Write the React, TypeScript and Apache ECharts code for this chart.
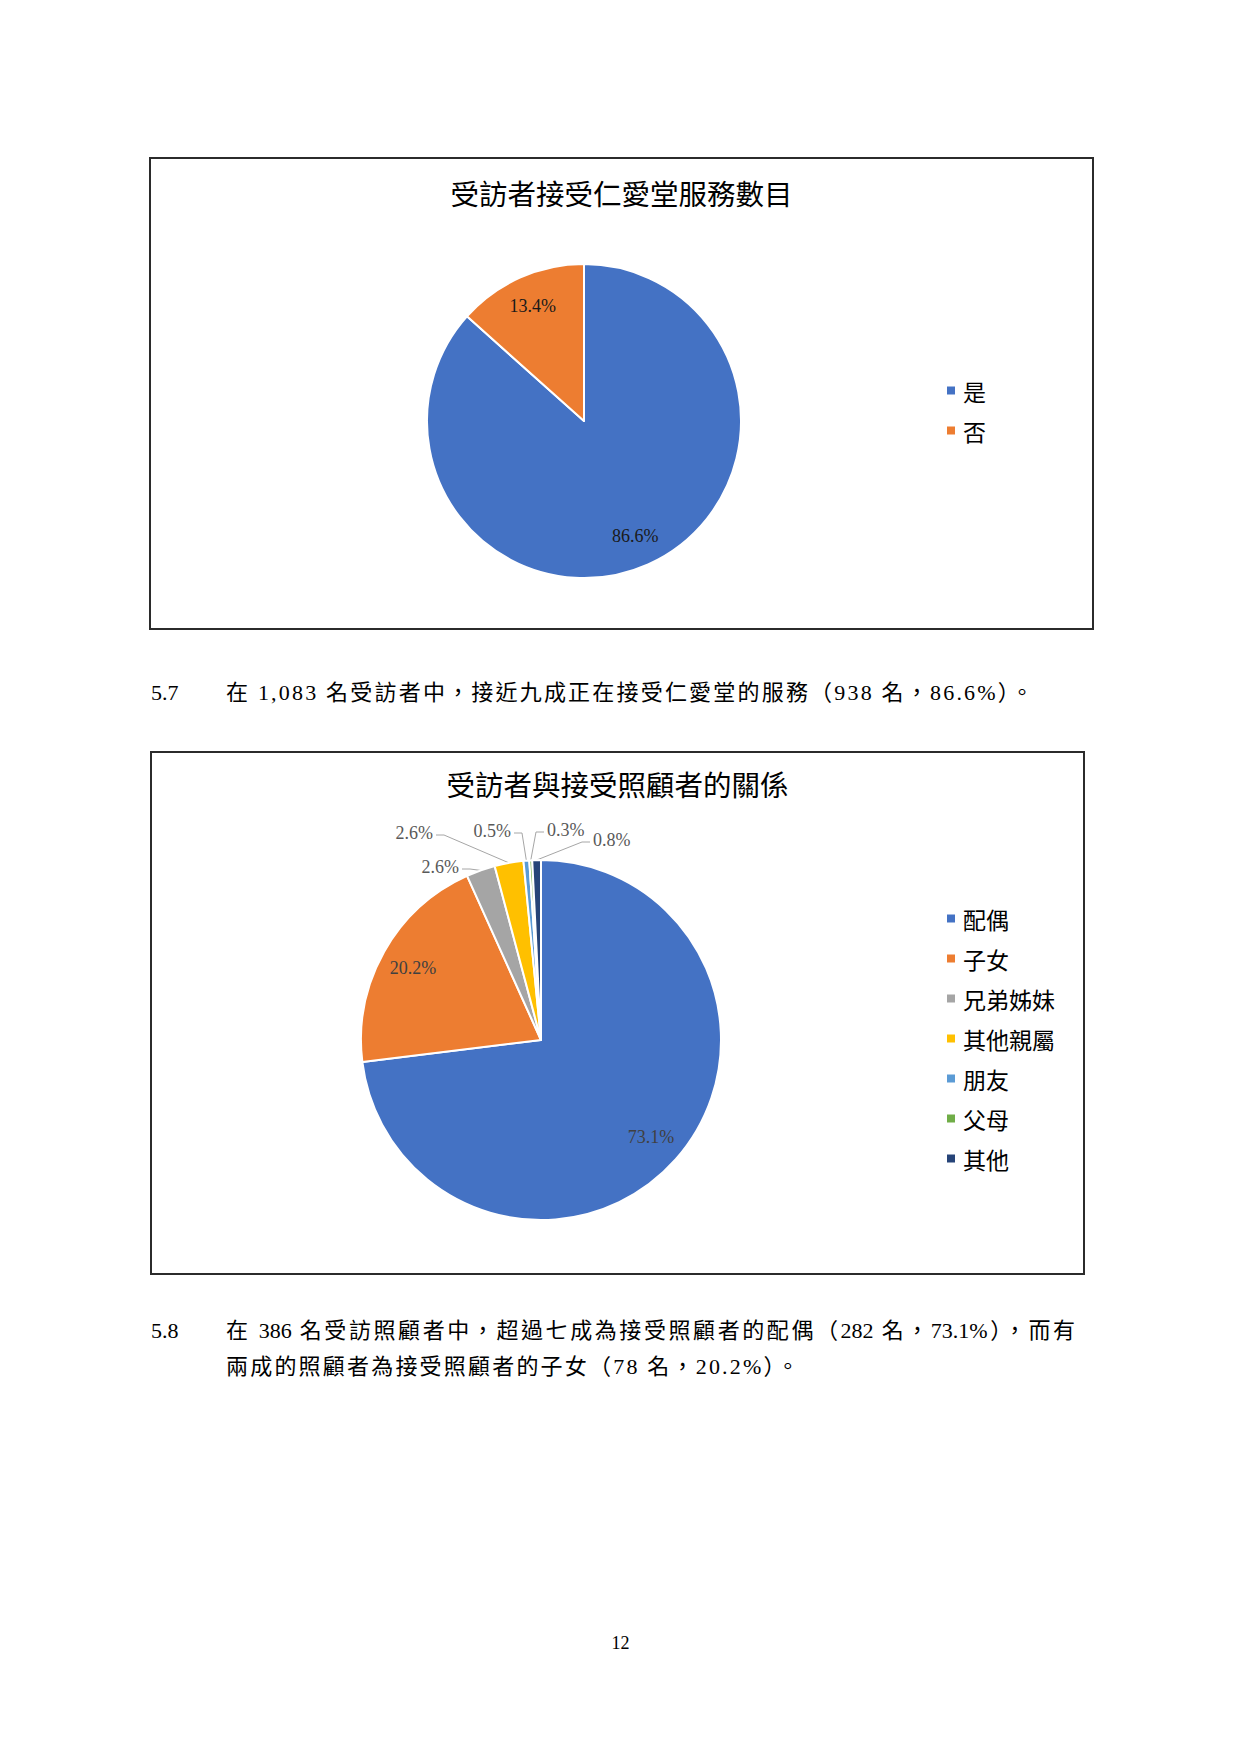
import { useEffect, useRef } from "react";
import * as echarts from "echarts";

// 圖一: 受訪者接受仁愛堂服務數目 (n = 1,083)
const SERVICE_NAMES = ["是", "否"];
const SERVICE_COUNTS = [938, 145];
const SERVICE_COLORS = ["#4472C4", "#ED7D31"];

// 圖二: 受訪者與接受照顧者的關係 (n = 386)
const REL_NAMES = ["配偶", "子女", "兄弟姊妹", "其他親屬", "朋友", "父母", "其他"];
const REL_COUNTS = [282, 78, 10, 10, 2, 1, 3];
const REL_COLORS = ["#4472C4", "#ED7D31", "#A5A5A5", "#FFC000", "#5B9BD5", "#70AD47", "#264478"];

const SERIF = '"Liberation Serif", "Noto Sans CJK TC", serif';
const CJK = '"Noto Sans CJK TC", "Liberation Serif", sans-serif';

// 圖二 小扇形的外部標籤位置 (相對圓心, px) — Excel 風格的排放
const OUTER_SPOTS: Record<number, [number, number]> = {
  2: [-82, -173],
  3: [-108, -207],
  4: [-30, -209],
  5: [6, -210],
  6: [52, -200],
};

const pct = (v: number, all: number[]) => {
  const total = all.reduce((a, b) => a + b, 0);
  return ((v / total) * 100).toFixed(1) + "%";
};

function useChart(build: () => echarts.EChartsCoreOption) {
  const ref = useRef<HTMLDivElement>(null);
  useEffect(() => {
    if (!ref.current) return;
    const inst = echarts.init(ref.current, undefined, { renderer: "svg" });
    inst.setOption(build());
    return () => inst.dispose();
  }, []);
  return ref;
}

function legendOf(top: number, left: number, gap: number) {
  return {
    orient: "vertical",
    left,
    top,
    itemWidth: 8,
    itemHeight: 8,
    itemGap: gap,
    icon: "rect",
    selectedMode: false,
    itemStyle: { borderWidth: 0 },
    textStyle: { fontFamily: CJK, fontSize: 23, lineHeight: 23, color: "#000", padding: [0, 0, 0, 3] },
  };
}

function titleOf(text: string, top: number) {
  return {
    text,
    left: "center",
    top,
    padding: 0,
    textStyle: { fontFamily: CJK, fontSize: 28.5, fontWeight: "normal", color: "#000" },
  };
}

function ServiceChart() {
  const C: [number, number] = [433, 262];
  const R = 157;
  const ref = useChart(() => ({
    animation: false,
    backgroundColor: "#fff",
    title: titleOf("受訪者接受仁愛堂服務數目", 19),
    legend: { ...legendOf(215, 791, 17), data: SERVICE_NAMES },
    series: [
      {
        type: "pie", center: C, radius: R, startAngle: 90, clockwise: true,
        silent: true, label: { show: false }, labelLine: { show: false },
        itemStyle: { borderColor: "#fff", borderWidth: 2 },
        data: SERVICE_NAMES.map((n, i) => ({ name: n, value: SERVICE_COUNTS[i], itemStyle: { color: SERVICE_COLORS[i] } })),
      },
      {
        // 只畫標籤: 透明環, 讓 inside 標籤落在 ~0.78r
        type: "pie", center: C, radius: [R * 0.56, R], startAngle: 90, clockwise: true,
        silent: true,
        itemStyle: { color: "transparent", borderWidth: 0 },
        label: {
          show: true, position: "inside", fontFamily: SERIF, fontSize: 18, color: "#1a1a1a",
          formatter: (p: any) => pct(p.value, SERVICE_COUNTS),
        },
        data: SERVICE_NAMES.map((n, i) => ({ name: n, value: SERVICE_COUNTS[i] })),
      },
    ],
  }));
  return <div ref={ref} style={{ width: 941, height: 469 }} />;
}

function RelationChart() {
  const C: [number, number] = [389, 287];
  const R = 180;
  const total = REL_COUNTS.reduce((a, b) => a + b, 0);
  const small = (v: number) => v / total < 0.05;
  const ref = useChart(() => ({
    animation: false,
    backgroundColor: "#fff",
    title: titleOf("受訪者與接受照顧者的關係", 16),
    legend: { ...legendOf(149, 790, 17), data: REL_NAMES },
    series: [
      {
        type: "pie", center: C, radius: R, startAngle: 90, clockwise: true,
        silent: true, avoidLabelOverlap: false,
        itemStyle: { borderColor: "#fff", borderWidth: 2 },
        label: {
          show: true, position: "outside", fontFamily: SERIF, fontSize: 18, color: "#595959",
          formatter: (p: any) => pct(p.value, REL_COUNTS),
        },
        labelLine: { show: true, lineStyle: { color: "#A6A6A6", width: 1 } },
        labelLayout: (p: any) => {
          const spot = OUTER_SPOTS[p.dataIndex];
          if (!spot) return {};
          const x = C[0] + spot[0];
          const y = C[1] + spot[1];
          const toRight = spot[0] < 0; // 標籤在左, 引線往右
          const endX = toRight ? x + 3 : x - 3;
          const elbowX = toRight ? endX + 8 : endX - 8;
          const start = p.labelLinePoints ? p.labelLinePoints[0] : [C[0], C[1] - R];
          return {
            x, y,
            align: toRight ? "right" : "left",
            verticalAlign: "middle",
            labelLinePoints: [start, [elbowX, y + 2], [endX, y + 2]],
          };
        },
        data: REL_NAMES.map((n, i) => ({
          name: n,
          value: REL_COUNTS[i],
          itemStyle: { color: REL_COLORS[i] },
          label: { show: small(REL_COUNTS[i]) },
          labelLine: { show: small(REL_COUNTS[i]) },
        })),
      },
      {
        type: "pie", center: C, radius: [R * 0.6, R], startAngle: 90, clockwise: true,
        silent: true,
        itemStyle: { color: "transparent", borderWidth: 0 },
        label: {
          show: true, position: "inside", fontFamily: SERIF, fontSize: 18, color: "#404040",
          formatter: (p: any) => pct(p.value, REL_COUNTS),
        },
        data: REL_NAMES.map((n, i) => ({
          name: n, value: REL_COUNTS[i],
          label: { show: !small(REL_COUNTS[i]) },
        })),
      },
    ],
  }));
  return <div ref={ref} style={{ width: 931, height: 520 }} />;
}

const textBase: React.CSSProperties = {
  position: "absolute",
  fontFamily: SERIF,
  fontSize: 22,
  lineHeight: "34px",
  color: "#000",
  whiteSpace: "nowrap",
};

export default function App() {
  return (
    <div style={{ position: "absolute", left: 0, top: 0, width: 1241, height: 1754, background: "#fff" }}>
      <div style={{ position: "absolute", left: 149, top: 157, border: "2px solid #2b2b2b" }}>
        <ServiceChart />
      </div>

      <div style={{ ...textBase, left: 151, top: 676 }}>5.7</div>
      <div style={{ ...textBase, left: 226, top: 676, letterSpacing: 2.2 }}>
        在 1,083 名受訪者中，接近九成正在接受仁愛堂的服務（938 名，86.6%）。
      </div>

      <div style={{ position: "absolute", left: 150, top: 751, border: "2px solid #2b2b2b" }}>
        <RelationChart />
      </div>

      <div style={{ ...textBase, left: 151, top: 1314 }}>5.8</div>
      <div style={{ ...textBase, left: 226, top: 1314, width: 849, textAlign: "justify", textAlignLast: "justify" }}>
        在 386 名受訪照顧者中，超過七成為接受照顧者的配偶（282 名，73.1%），而有
      </div>
      <div style={{ ...textBase, left: 226, top: 1350, letterSpacing: 2.2 }}>
        兩成的照顧者為接受照顧者的子女（78 名，20.2%）。
      </div>

      <div style={{ ...textBase, left: 0, top: 1626, width: 1241, textAlign: "center", fontSize: 18 }}>12</div>
    </div>
  );
}
